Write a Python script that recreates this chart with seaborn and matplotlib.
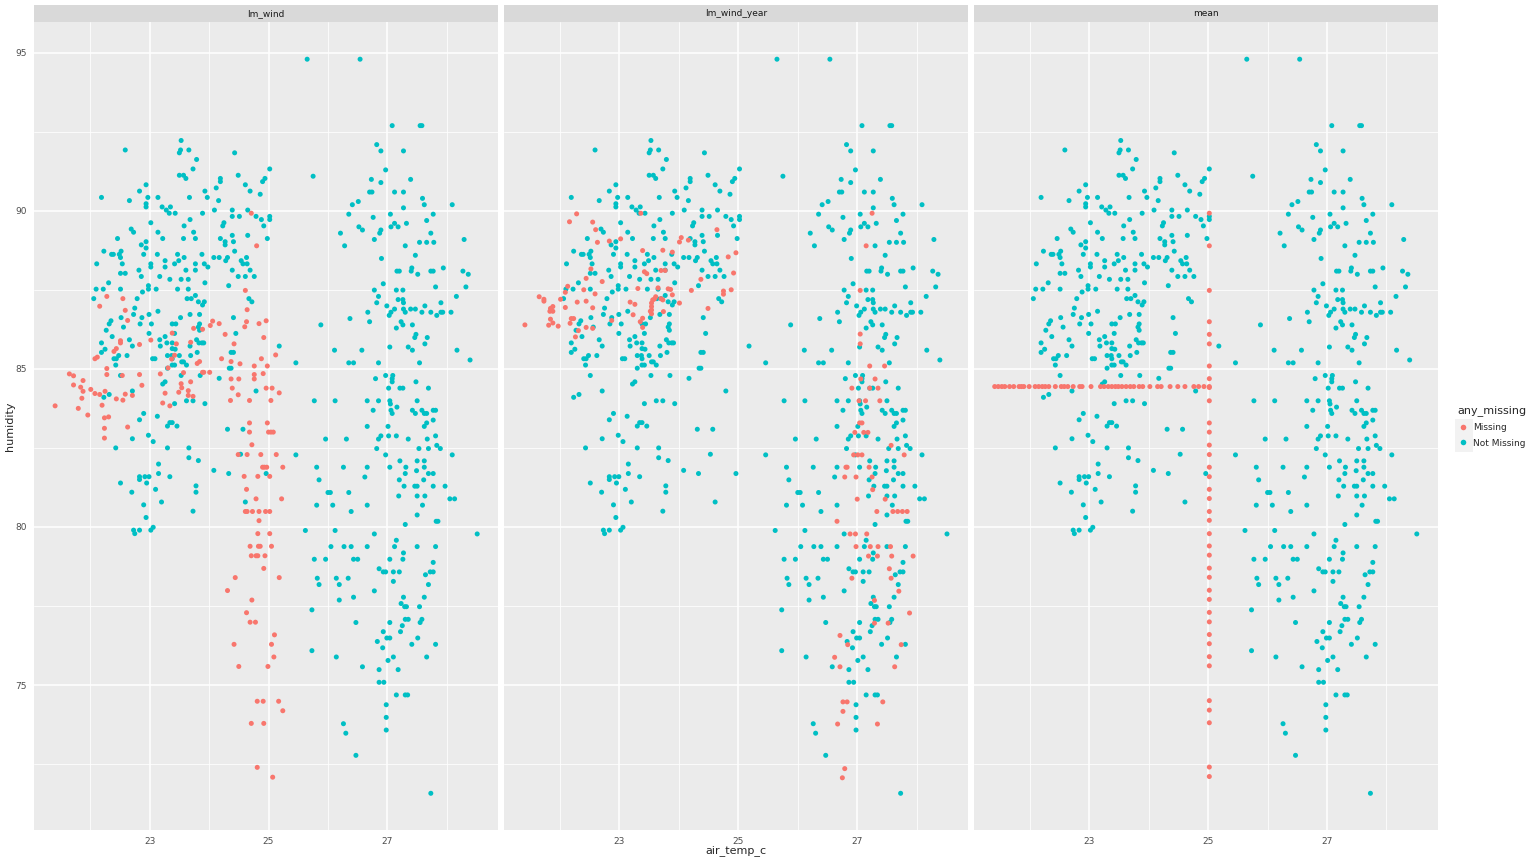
"""
plot.py
imputation comparison: air_temp_c vs humidity, one facet per imputation method
"""

import numpy as np
import pandas as pd
import matplotlib
matplotlib.use("Agg")
import matplotlib.pyplot as plt
from matplotlib.patches import Rectangle
from matplotlib.lines import Line2D
import seaborn as sns

# ============== DATA ==============
PANELS = ["lm_wind", "lm_wind_year", "mean"]
COLORS = {"Missing": "#F8766D", "Not Missing": "#00BFC4"}

# rows with both values observed (same in every facet) - 1993 cluster
obs_1993 = [
    (22.59, 91.92), (23.53, 92.22), (23.52, 91.92), (23.50, 91.83), (23.66, 91.92), (23.79, 91.62),
    (23.73, 91.32), (23.50, 91.12), (23.57, 91.12), (23.61, 91.02), (24.43, 91.83), (24.49, 91.12),
    (24.19, 91.02), (24.19, 90.92), (24.61, 90.82), (24.69, 90.62), (24.90, 90.92), (24.94, 91.02),
    (25.02, 91.32), (24.86, 90.52), (24.12, 90.72), (23.93, 90.62), (23.97, 90.42), (23.67, 90.42),
    (22.94, 90.82), (22.83, 90.62), (22.19, 90.42), (22.66, 90.32), (22.97, 90.42), (23.14, 90.42),
    (22.94, 90.22), (22.94, 90.12), (23.21, 90.12), (23.28, 90.02), (23.35, 90.12), (23.33, 89.92),
    (23.43, 89.92), (24.16, 90.32), (24.09, 90.02), (24.39, 90.02), (24.39, 89.82), (24.51, 89.82),
    (24.65, 90.02), (24.79, 89.82), (24.88, 89.72), (25.02, 89.82), (25.02, 89.72), (24.92, 89.52),
    (23.89, 89.92), (23.68, 89.72), (23.58, 89.52), (24.25, 89.62), (24.23, 89.52), (23.02, 89.62),
    (22.69, 89.42), (22.73, 89.32), (23.14, 89.32), (23.74, 89.32), (22.46, 89.12), (23.22, 89.12),
    (23.57, 89.12), (23.77, 89.12), (24.19, 89.12), (24.27, 89.02), (24.27, 88.92), (24.41, 89.02),
    (24.39, 89.22), (24.65, 89.22), (24.98, 89.12), (22.94, 89.02), (22.86, 88.92), (22.94, 88.82),
    (22.23, 88.72), (22.36, 88.62), (22.39, 88.62), (22.52, 88.72), (22.51, 88.52), (22.49, 88.62),
    (22.90, 88.62), (23.13, 88.62), (22.11, 88.32), (22.54, 88.32), (22.51, 88.02), (22.59, 88.02),
    (23.47, 88.62), (23.58, 88.52), (23.49, 88.42), (23.42, 88.32), (23.26, 88.42), (23.26, 88.22),
    (23.02, 88.32), (23.02, 88.22), (23.88, 88.62), (23.77, 88.32), (23.77, 88.12), (23.92, 88.32),
    (23.98, 88.22), (24.08, 88.52), (24.17, 88.52), (24.31, 88.52), (24.28, 88.42), (24.43, 88.72),
    (24.54, 88.42), (24.57, 88.32), (24.63, 88.52), (24.64, 88.32), (24.69, 88.12), (24.39, 88.12),
    (24.49, 87.92), (24.61, 87.92), (24.76, 87.92), (23.34, 87.83), (23.53, 87.83), (23.65, 87.83),
    (23.61, 88.12), (23.17, 87.92), (22.82, 88.12), (22.86, 87.92), (22.31, 87.72), (23.93, 87.72),
    (24.33, 87.63), (22.10, 87.52), (22.22, 87.52), (22.51, 87.52), (22.88, 87.43), (22.98, 87.52),
    (22.98, 87.63), (23.11, 87.52), (23.47, 87.52), (23.65, 87.52), (22.06, 87.22), (22.79, 87.22),
    (23.63, 87.22), (23.70, 87.22), (23.77, 87.32), (23.82, 87.12), (23.92, 87.12), (23.89, 87.02),
    (24.67, 87.22), (24.72, 87.12), (22.75, 86.92), (22.73, 86.72), (22.87, 86.62), (22.99, 86.72),
    (23.14, 86.82), (22.52, 86.62), (22.35, 86.52), (22.32, 86.42), (22.27, 86.22), (22.56, 86.32),
    (22.84, 86.42), (23.03, 86.42), (23.52, 86.62), (23.68, 86.72), (23.84, 86.72), (23.38, 86.42),
    (23.44, 86.42), (23.84, 86.42), (23.82, 86.32), (23.84, 86.22), (24.41, 86.62), (22.37, 86.02),
    (22.99, 86.12), (23.42, 86.12), (22.19, 85.82), (22.25, 85.62), (22.19, 85.52), (22.66, 85.92),
    (22.71, 85.72), (23.17, 85.92), (23.18, 85.72), (23.26, 86.02), (23.29, 85.82), (23.38, 85.82),
    (23.38, 85.64), (23.43, 85.62), (23.79, 85.92), (23.83, 85.82), (23.88, 85.82), (23.91, 85.82),
    (23.68, 85.72), (23.80, 85.52), (24.45, 86.12), (24.37, 85.52), (24.41, 85.52), (25.18, 85.72),
    (22.40, 85.32), (22.44, 85.32), (22.48, 85.42), (22.43, 85.12), (22.62, 85.42), (23.05, 85.32),
    (23.09, 85.32), (23.30, 85.42), (23.37, 85.42), (23.38, 85.32), (23.50, 85.42), (23.69, 85.42),
    (23.54, 85.22), (23.57, 85.22), (23.62, 85.12), (23.30, 85.02), (23.38, 85.12), (23.42, 85.12),
    (24.34, 85.02), (24.37, 85.02), (22.51, 84.79), (23.53, 84.79), (23.85, 84.79), (24.17, 84.70),
    (23.26, 84.59), (23.22, 84.52), (22.71, 84.30), (24.79, 84.30), (22.23, 84.10), (22.32, 84.19),
    (23.42, 83.90), (23.62, 83.99), (23.73, 83.99), (23.93, 83.90), (22.90, 83.59), (22.83, 83.39),
    (23.13, 83.50), (23.30, 83.19), (23.34, 83.30), (23.38, 83.30), (23.46, 83.19), (24.31, 83.09),
    (24.57, 83.09), (22.71, 82.79), (22.98, 82.90), (23.06, 82.70), (22.43, 82.50), (23.30, 82.50),
    (23.66, 82.50), (23.66, 82.19), (23.82, 82.10), (24.53, 82.30), (23.15, 81.99), (24.08, 81.79),
    (24.33, 81.69), (24.96, 81.69), (23.15, 81.69), (23.34, 81.59), (22.83, 81.59), (22.83, 81.50),
    (22.92, 81.59), (22.99, 81.59), (22.95, 81.39), (22.51, 81.39), (22.70, 81.10), (23.10, 81.19),
    (23.78, 81.30), (23.78, 81.10), (23.20, 80.79), (22.90, 80.70), (24.61, 80.79), (23.73, 80.50),
    (22.94, 80.30), (22.73, 79.90), (22.75, 79.79), (22.83, 79.90), (23.02, 79.90), (23.06, 79.99),
]

# rows with both values observed - 1997 cluster
obs_1997 = [
    (25.65, 94.79), (26.54, 94.79), (27.08, 92.69), (27.55, 92.69), (27.58, 92.69), (26.82, 92.09),
    (26.89, 91.89), (27.27, 91.89), (26.97, 91.29), (25.75, 91.09), (26.73, 90.99), (26.89, 90.89),
    (27.39, 90.99), (26.70, 90.59), (26.74, 90.59), (27.12, 90.59), (27.27, 90.59), (27.59, 90.39),
    (26.51, 90.29), (26.41, 90.19), (27.62, 90.19), (28.09, 90.19), (27.27, 90.09), (26.35, 89.89),
    (27.05, 89.89), (27.77, 89.89), (26.76, 89.79), (27.66, 89.69), (27.12, 89.60), (27.06, 89.49),
    (27.18, 89.49), (27.32, 89.60), (26.52, 89.49), (26.58, 89.39), (26.89, 89.39), (26.87, 89.29),
    (26.21, 89.29), (27.73, 89.29), (26.78, 89.09), (27.54, 89.00), (27.66, 89.00), (27.78, 89.00),
    (28.29, 89.09), (26.28, 88.89), (27.30, 88.89), (27.47, 88.59), (26.90, 88.49), (27.16, 88.09),
    (27.20, 88.09), (27.40, 88.09), (27.41, 88.19), (27.73, 88.09), (27.77, 88.09), (27.94, 88.19),
    (28.27, 88.09), (28.36, 87.99), (27.51, 87.99), (26.93, 87.69), (26.78, 87.49), (27.15, 87.49),
    (27.26, 87.49), (27.81, 87.59), (28.32, 87.59), (26.85, 87.29), (28.16, 87.29), (26.82, 87.09),
    (27.18, 87.19), (27.26, 87.19), (27.27, 87.09), (27.90, 87.09), (26.99, 86.99), (26.67, 86.79),
    (27.12, 86.89), (27.06, 86.79), (27.03, 86.69), (27.27, 86.89), (27.30, 86.79), (27.39, 86.89),
    (27.47, 86.89), (27.63, 86.99), (27.58, 86.79), (27.73, 86.79), (27.83, 86.69), (27.90, 86.79),
    (27.93, 86.79), (28.07, 86.79), (26.37, 86.59), (25.88, 86.39), (26.70, 86.49), (27.23, 86.49),
    (27.26, 86.39), (27.42, 86.39), (27.15, 86.29), (27.48, 86.09), (27.46, 85.99), (27.67, 85.99),
    (27.63, 85.79), (26.11, 85.59), (26.57, 85.59), (27.04, 85.69), (27.35, 85.69), (27.42, 85.59),
    (28.17, 85.59), (28.39, 85.28), (25.46, 85.19), (26.35, 85.19), (26.43, 85.19), (26.85, 85.19),
    (27.54, 85.19), (26.80, 84.69), (26.97, 84.79), (27.09, 84.79), (27.08, 84.69), (27.08, 84.59),
    (27.48, 84.59), (27.02, 84.39), (27.21, 84.39), (27.26, 84.39), (27.69, 84.39), (25.77, 83.99),
    (26.12, 83.99), (26.66, 83.99), (26.85, 83.99), (27.04, 83.99), (27.05, 83.89), (27.50, 83.99),
    (26.76, 83.69), (27.06, 83.69), (27.08, 83.59), (27.16, 83.79), (27.42, 83.69), (27.47, 83.59),
    (27.58, 83.69), (27.62, 83.59), (27.66, 83.59), (27.77, 83.69), (27.81, 83.69), (27.77, 83.38),
    (27.66, 83.29), (27.62, 83.18), (26.66, 83.18), (27.01, 83.18), (25.96, 82.78), (26.31, 82.78),
    (26.85, 82.78), (26.89, 82.88), (27.02, 82.88), (27.15, 82.88), (27.35, 82.78), (27.67, 82.78),
    (27.81, 82.88), (27.83, 82.58), (27.89, 82.48), (26.82, 82.48), (27.53, 82.48), (27.69, 82.48),
    (25.46, 82.28), (26.97, 82.28), (28.09, 82.28), (25.81, 81.89), (26.26, 81.89), (26.66, 81.89),
    (27.04, 81.89), (27.21, 82.09), (27.31, 81.89), (27.30, 81.69), (27.50, 82.09), (27.62, 82.09),
    (27.49, 81.78), (27.62, 81.89), (27.69, 81.69), (27.77, 81.69), (25.85, 81.49), (26.62, 81.58),
    (27.20, 81.49), (27.61, 81.49), (26.00, 81.09), (26.04, 81.09), (26.35, 81.09), (27.28, 81.29),
    (27.46, 81.29), (27.50, 81.29), (27.77, 81.29), (27.97, 81.29), (27.19, 80.98), (27.50, 80.98),
    (27.63, 80.98), (28.05, 80.89), (28.13, 80.89), (25.81, 80.69), (26.08, 80.69), (26.66, 80.69),
    (27.59, 80.69), (26.39, 80.49), (27.50, 80.38), (27.82, 80.18), (27.85, 80.18), (27.30, 80.08),
    (25.62, 79.89), (26.12, 79.89), (26.78, 79.78), (28.51, 79.78), (27.15, 79.58), (26.05, 79.38),
    (26.27, 79.38), (26.39, 79.38), (26.66, 79.38), (27.12, 79.38), (27.50, 79.38), (27.81, 79.38),
    (27.27, 79.18), (25.77, 78.98), (25.96, 78.98), (26.43, 78.98), (26.50, 78.98), (27.04, 78.98),
    (27.26, 78.98), (27.77, 78.88), (26.86, 78.68), (26.93, 78.58), (26.97, 78.58), (27.10, 78.58),
    (27.20, 78.58), (27.72, 78.58), (27.77, 78.58), (27.64, 78.49), (27.10, 78.28), (25.82, 78.38),
    (25.85, 78.18), (26.14, 78.38), (26.19, 78.18), (26.34, 78.38), (27.69, 78.18), (26.78, 77.98),
    (26.19, 77.69), (26.43, 77.78), (27.27, 77.78), (27.62, 77.78), (27.23, 77.58), (27.29, 77.48),
    (27.32, 77.48), (27.54, 77.48), (25.73, 77.38), (26.47, 76.98), (27.04, 76.98), (27.30, 77.08),
    (27.35, 77.08), (27.58, 77.08), (27.55, 76.98), (27.25, 76.88), (26.93, 76.69), (27.22, 76.69),
    (26.99, 76.49), (27.04, 76.49), (26.83, 76.38), (27.51, 76.49), (27.41, 76.29), (27.81, 76.29),
    (26.92, 76.18), (25.73, 76.09), (26.14, 75.89), (27.10, 75.89), (27.66, 75.89), (27.01, 75.78),
    (26.58, 75.58), (26.86, 75.49), (27.18, 75.49), (26.86, 75.09), (26.94, 75.09), (27.15, 74.69),
    (27.30, 74.69), (27.34, 74.69), (26.98, 74.38), (26.98, 73.98), (26.26, 73.78), (26.98, 73.58),
    (26.30, 73.48), (26.47, 72.78), (27.73, 71.58),
]

# imputed rows, lm_wind facet
lm_wind_missing = [
    (21.41, 83.83), (21.65, 84.84), (21.72, 84.78), (21.72, 84.49), (21.88, 84.63), (21.84, 84.42),
    (21.88, 84.29), (21.86, 84.07), (21.80, 83.75), (21.96, 83.54), (22.01, 84.35), (22.08, 84.22),
    (22.16, 84.19), (22.25, 84.29), (22.20, 83.85), (22.24, 83.45), (22.31, 83.48), (22.24, 83.12),
    (22.24, 82.81), (22.44, 84.05), (22.55, 84.01), (22.59, 84.20), (22.71, 84.16), (22.83, 84.82),
    (22.87, 84.48), (22.63, 83.16), (22.28, 85.01), (22.28, 84.82), (22.54, 84.79), (22.08, 85.32),
    (22.12, 85.37), (22.40, 85.55), (22.44, 85.64), (22.51, 85.82), (22.51, 85.89), (22.83, 85.77),
    (22.63, 86.53), (22.59, 86.85), (22.16, 86.98), (22.28, 87.29), (22.55, 87.22), (23.02, 85.91),
    (23.18, 84.84), (23.22, 83.92), (23.34, 83.83), (23.26, 84.23), (23.31, 85.03), (23.38, 86.13),
    (23.45, 85.79), (23.42, 85.43), (23.37, 85.31), (23.49, 84.26), (23.53, 84.53), (23.54, 84.40),
    (23.57, 84.88), (23.65, 84.31), (23.65, 84.16), (23.69, 84.59), (23.73, 84.13), (23.84, 85.23),
    (23.80, 85.17), (23.89, 86.25), (23.69, 85.84), (23.74, 86.28), (23.89, 84.89), (24.71, 89.92),
    (24.80, 88.89), (24.61, 87.48), (24.64, 86.87), (24.06, 86.51), (24.02, 86.37), (24.17, 86.43),
    (24.63, 86.49), (24.60, 86.33), (24.84, 86.43), (24.96, 86.52), (24.27, 86.09), (24.92, 85.99),
    (24.42, 85.79), (24.21, 85.32), (24.37, 85.23), (24.52, 85.16), (24.88, 85.32), (25.12, 85.44),
    (24.98, 85.09), (24.76, 85.09), (24.01, 84.89), (23.91, 84.89), (24.37, 84.68), (24.50, 84.68),
    (24.76, 84.82), (24.76, 84.68), (24.91, 84.85), (24.39, 84.39), (24.49, 84.18), (24.68, 84.00),
    (24.36, 84.00), (24.96, 84.39), (25.06, 84.39), (25.18, 84.24), (25.04, 84.00), (24.68, 83.29),
    (24.68, 83.00), (24.98, 83.29), (25.00, 83.00), (25.04, 83.00), (25.08, 83.00), (24.72, 82.60),
    (24.49, 82.29), (24.64, 82.29), (24.87, 82.29), (25.13, 82.29), (24.90, 81.89), (24.93, 81.89),
    (24.97, 81.89), (25.24, 81.89), (24.59, 81.60), (24.82, 81.60), (25.02, 81.60), (24.63, 81.19),
    (24.79, 80.89), (25.22, 80.89), (24.61, 80.49), (24.64, 80.49), (24.73, 80.49), (24.84, 80.49),
    (24.95, 80.49), (25.02, 80.49), (24.84, 80.20), (24.82, 79.79), (25.02, 79.79), (24.69, 79.39),
    (24.83, 79.39), (24.86, 79.39), (25.05, 79.39), (24.71, 79.09), (24.79, 79.09), (24.82, 79.09),
    (24.94, 79.09), (24.92, 78.69), (24.44, 78.40), (25.18, 78.40), (24.31, 77.99), (24.72, 77.69),
    (24.63, 77.29), (24.69, 76.99), (24.78, 76.99), (25.10, 76.59), (24.42, 76.29), (25.05, 76.29),
    (25.09, 75.89), (24.50, 75.59), (24.99, 75.59), (24.81, 74.49), (24.91, 74.49), (25.17, 74.49),
    (25.24, 74.19), (24.71, 73.79), (24.92, 73.79), (24.81, 72.40), (25.07, 72.09),
]

# imputed rows, lm_wind_year facet
lm_wind_year_missing = [
    (21.41, 86.39), (21.65, 87.28), (21.73, 87.20), (21.73, 87.14), (21.84, 86.91), (21.88, 86.97),
    (21.88, 86.82), (21.83, 86.82), (21.84, 86.57), (21.88, 86.45), (21.81, 86.38), (21.97, 86.35),
    (22.01, 87.20), (22.09, 87.42), (22.13, 87.61), (22.09, 86.94), (22.16, 89.65), (22.28, 89.90),
    (22.19, 86.59), (22.23, 86.59), (22.29, 87.11), (22.17, 86.44), (22.26, 86.01), (22.31, 86.21),
    (22.40, 87.50), (22.44, 87.86), (22.44, 87.14), (22.44, 86.31), (22.52, 88.16), (22.55, 89.64),
    (22.60, 89.40), (22.63, 89.00), (22.55, 86.93), (22.59, 87.37), (22.71, 87.76), (22.55, 86.28),
    (22.83, 89.04), (22.87, 86.53), (23.02, 89.11), (23.18, 87.11), (23.23, 86.71), (23.26, 87.04),
    (23.31, 87.54), (23.36, 89.92), (23.39, 88.74), (23.42, 88.07), (23.46, 88.01), (23.39, 86.60),
    (23.35, 86.49), (23.39, 86.31), (23.54, 87.08), (23.54, 86.97), (23.54, 86.86), (23.54, 86.74),
    (23.52, 86.82), (23.59, 87.21), (23.61, 87.28), (23.56, 87.18), (23.70, 87.22), (23.73, 87.18),
    (23.65, 87.56), (23.82, 87.53), (23.86, 87.51), (23.89, 87.34), (23.73, 88.75), (23.89, 88.69),
    (23.70, 88.11), (23.77, 88.11), (23.74, 86.81), (24.01, 87.08), (24.01, 89.01), (24.04, 89.15),
    (24.16, 89.07), (24.21, 87.48), (24.37, 87.83), (24.49, 86.91), (24.64, 89.40), (24.75, 87.46),
    (24.75, 87.36), (24.88, 87.50), (24.83, 88.54), (24.92, 88.03), (24.96, 88.67),
    (27.25, 89.92), (27.15, 88.89), (27.05, 87.48), (27.05, 86.10), (27.05, 85.79), (27.21, 85.09),
    (27.46, 85.09), (27.06, 84.68), (27.30, 84.68), (26.91, 84.39), (27.21, 84.39), (27.35, 84.39),
    (27.03, 83.99), (27.14, 83.99), (27.38, 83.99), (27.04, 83.29), (27.08, 83.29), (26.96, 82.99),
    (27.11, 82.99), (27.18, 82.99), (27.57, 82.58), (26.94, 82.28), (27.01, 82.28), (27.08, 82.28),
    (27.79, 82.28), (26.81, 81.89), (26.83, 81.89), (27.20, 81.89), (26.79, 81.58), (26.98, 81.58),
    (27.25, 81.58), (27.26, 81.18), (27.00, 80.88), (27.47, 80.88), (27.33, 80.49), (27.60, 80.49),
    (27.68, 80.49), (27.76, 80.49), (27.84, 80.49), (26.66, 80.18), (26.88, 79.78), (26.97, 79.78),
    (27.16, 79.78), (26.98, 79.38), (27.22, 79.38), (27.35, 79.38), (27.56, 79.38), (27.19, 79.08),
    (27.34, 79.08), (27.58, 79.08), (27.94, 79.08), (27.54, 78.68), (26.91, 78.38), (27.57, 78.38),
    (27.70, 77.97), (27.29, 77.68), (27.88, 77.28), (27.52, 76.96), (27.29, 76.96), (26.71, 76.57),
    (26.84, 76.28), (27.74, 76.28), (26.62, 75.88), (26.71, 75.58), (27.63, 75.58), (26.76, 74.47),
    (26.83, 74.47), (27.43, 74.47), (26.76, 74.17), (26.67, 73.77), (27.34, 73.77), (26.79, 72.36),
    (26.75, 72.07),
]

# mean facet: missing values replaced by the column mean
MEAN_AIR = 25.02
MEAN_HUM = 84.44
# air temperature of rows whose humidity was missing
hum_missing_air = [
    21.41, 21.47, 21.53, 21.58, 21.66, 21.73, 21.82, 21.86, 21.90, 21.99, 22.09, 22.15, 22.21,
    22.26, 22.32, 22.43, 22.53, 22.58, 22.64, 22.73, 22.84, 22.88, 23.03, 23.19, 23.25, 23.32,
    23.38, 23.44, 23.49, 23.55, 23.62, 23.69, 23.75, 23.84, 23.90, 24.02, 24.15, 24.21, 24.36,
    24.49, 24.61, 24.76, 24.84, 24.93, 25.02,
]
# humidity of rows whose air temperature was missing
air_missing_hum = [
    89.92, 88.89, 87.48, 86.49, 86.09, 85.79, 85.09, 84.69, 84.41, 83.99, 83.29, 83.00, 82.59,
    82.29, 81.89, 81.59, 81.19, 80.90, 80.49, 80.21, 79.79, 79.40, 79.11, 78.70, 78.41, 78.00,
    77.71, 77.30, 77.00, 76.60, 76.31, 75.90, 75.61, 74.51, 74.21, 73.81, 72.41, 72.11,
]
# ==================================


def build_frame():
    obs = np.array(obs_1993 + obs_1997)
    frames = []
    for panel in PANELS:
        frames.append(pd.DataFrame({"air_temp_c": obs[:, 0], "humidity": obs[:, 1],
                                    "any_missing": "Not Missing", "panel": panel}))
    for panel, rows in [("lm_wind", lm_wind_missing), ("lm_wind_year", lm_wind_year_missing)]:
        arr = np.array(rows)
        frames.append(pd.DataFrame({"air_temp_c": arr[:, 0], "humidity": arr[:, 1],
                                    "any_missing": "Missing", "panel": panel}))
    frames.append(pd.DataFrame({"air_temp_c": hum_missing_air, "humidity": MEAN_HUM,
                                "any_missing": "Missing", "panel": "mean"}))
    frames.append(pd.DataFrame({"air_temp_c": MEAN_AIR, "humidity": air_missing_hum,
                                "any_missing": "Missing", "panel": "mean"}))
    return pd.concat(frames, ignore_index=True)


def expand(lo, hi, mult=0.05):
    pad = (hi - lo) * mult
    return lo - pad, hi + pad


def main():
    df = build_frame()
    xlim = expand(df["air_temp_c"].min(), df["air_temp_c"].max())
    ylim = expand(df["humidity"].min(), df["humidity"].max())

    sns.set_style("white")
    plt.rcParams["font.family"] = ["DejaVu Sans"]

    W, H = 1536, 863
    fig = plt.figure(figsize=(W / 100, H / 100), dpi=100)

    left0, pw, gap = 34, 464.3, 5.5
    top, bottom, strip_h = 22.5, 830, 17.5

    for i, panel in enumerate(PANELS):
        x0 = left0 + i * (pw + gap)
        ax = fig.add_axes([x0 / W, (H - bottom) / H, pw / W, (bottom - top) / H])
        sub = df[df["panel"] == panel]
        sns.scatterplot(data=sub, x="air_temp_c", y="humidity", hue="any_missing",
                        palette=COLORS, s=13, linewidth=0, alpha=1, legend=False, ax=ax)

        ax.set_facecolor("#EBEBEB")
        for sp in ax.spines.values():
            sp.set_visible(False)
        ax.set_xlim(xlim)
        ax.set_ylim(ylim)
        ax.set_xticks([23, 25, 27])
        ax.set_xticks([22, 24, 26, 28], minor=True)
        ax.set_yticks([75, 80, 85, 90, 95])
        ax.set_yticks([72.5, 77.5, 82.5, 87.5, 92.5], minor=True)
        ax.set_axisbelow(True)
        ax.grid(which="major", color="white", linewidth=1.1)
        ax.grid(which="minor", color="white", linewidth=0.55)
        ax.tick_params(which="major", length=3, width=0.8, color="#333333",
                       labelsize=6.5, labelcolor="#4D4D4D", pad=2)
        ax.tick_params(which="minor", length=0)
        ax.set_xlabel("")
        ax.set_ylabel("")
        if i > 0:
            ax.tick_params(axis="y", which="both", left=False, labelleft=False)

        # facet strip
        sax = fig.add_axes([x0 / W, (H - top) / H, pw / W, strip_h / H])
        sax.set_facecolor("#D9D9D9")
        sax.set_xticks([])
        sax.set_yticks([])
        for sp in sax.spines.values():
            sp.set_visible(False)
        sax.text(0.5, 0.5, panel, ha="center", va="center", fontsize=6.5, color="#1A1A1A",
                 transform=sax.transAxes)

    fig.text((left0 + (3 * pw + 2 * gap) / 2) / W, 1 - 851 / H, "air_temp_c",
             ha="center", va="center", fontsize=8)
    fig.text(10 / W, 1 - 426 / H, "humidity", ha="center", va="center",
             rotation=90, fontsize=8)

    # legend
    fig.add_artist(Rectangle((1455 / W, 1 - 452 / H), 18 / W, 33 / H,
                             transform=fig.transFigure, facecolor="#F2F2F2",
                             edgecolor="none", zorder=0))
    handles = [Line2D([], [], marker="o", linestyle="", markersize=4,
                      markerfacecolor=COLORS[k], markeredgewidth=0, label=k)
               for k in ["Missing", "Not Missing"]]
    fig.legend(handles=handles, title="any_missing", loc="upper left",
               bbox_to_anchor=(1449 / W, 1 - 397 / H), frameon=False,
               fontsize=6.5, title_fontsize=8, handlelength=1.2,
               handletextpad=0.6, labelspacing=0.75, alignment="left")

    fig.savefig("out.png", dpi=100)
    plt.close(fig)


if __name__ == "__main__":
    main()
